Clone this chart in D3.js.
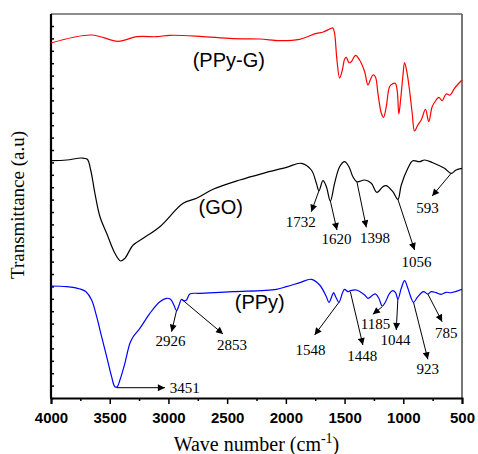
<!DOCTYPE html>
<html>
<head>
<meta charset="utf-8">
<script src="https://cdn.jsdelivr.net/npm/d3@7/dist/d3.min.js"></script>
<style>
  body { margin: 0; background: #fff; }
</style>
</head>
<body>
<svg width="478" height="454"></svg>
<script>
// spectra: [wave number, transmittance (a.u.)]
const ppyG = [
  [4000, 355], [3654, 363], [3428, 356.7], [3271, 361.3], [3101, 361.3], [2988, 362.7],
  [2733, 361.7], [2452, 359.3], [2222, 359], [2052, 357.3], [1882, 358.7], [1740, 364.7],
  [1687, 365.7], [1613, 369.7], [1599, 370], [1585, 364.7], [1565, 338], [1542, 320],
  [1519, 328], [1500, 338.7], [1485, 340.7], [1463, 335.3], [1443, 336.3], [1406, 342.7],
  [1372, 338], [1329, 326.3], [1301, 313], [1281, 318], [1259, 323], [1238, 321.3],
  [1216, 304.7], [1187, 284.7], [1168, 280.7], [1145, 291.3], [1117, 311.3], [1094, 314],
  [1068, 314.7], [1051, 306.3], [1038, 284], [1023, 298], [1004, 321.3], [989, 335.3],
  [970, 326.3], [947, 308], [924, 284.7], [904, 267], [876, 273], [847, 278], [811, 288.7],
  [783, 276.3], [754, 291.3], [720, 298], [697, 300.7], [669, 297.3], [635, 304], [601, 303],
  [564, 309.7], [500, 318]
];

const go = [
  [4000, 237.3], [3866, 238], [3739, 240], [3691, 238.7], [3662, 228], [3626, 204.7],
  [3583, 181.3], [3526, 164.7], [3456, 144.7], [3407, 137], [3371, 139.7], [3300, 153],
  [3215, 159.7], [3073, 171.3], [2875, 194.7], [2761, 199.7], [2620, 208.7], [2393, 218],
  [2194, 224.7], [1995, 230.7], [1868, 234.7], [1783, 228], [1740, 214.7], [1718, 207.3],
  [1684, 217.3], [1655, 211.3], [1621, 197], [1585, 214.7], [1542, 231.3], [1500, 236.3],
  [1463, 231.3], [1429, 221.3], [1395, 216.3], [1329, 218], [1272, 214.7], [1225, 205.7],
  [1174, 211.3], [1145, 212.3], [1089, 206.3], [1046, 198.7], [1017, 213], [961, 229.7],
  [919, 237.3], [862, 236.3], [819, 238], [749, 235.3], [649, 229.7], [592, 224.7],
  [550, 228], [500, 229.7]
];

const ppy = [
  [4000, 112], [3866, 111.3], [3753, 109], [3702, 106.3], [3654, 98], [3611, 81.3],
  [3569, 61.3], [3526, 41.3], [3484, 21.3], [3456, 11.3], [3436, 11.3], [3413, 18],
  [3371, 34.7], [3328, 54.7], [3300, 61.3], [3243, 69.7], [3158, 84.7], [3073, 96.3],
  [3016, 99.7], [2982, 98.7], [2954, 93], [2931, 87.3], [2909, 93], [2888, 98.7],
  [2869, 97.3], [2846, 98], [2818, 104], [2733, 104.7], [2450, 106.3], [2080, 108.7],
  [1995, 111.3], [1882, 115.3], [1783, 118.7], [1712, 113], [1655, 101.3], [1633, 95.7],
  [1604, 103], [1593, 105.3], [1576, 101.3], [1548, 95.7], [1519, 104.7], [1500, 108.7],
  [1471, 106.3], [1451, 107.3], [1400, 108], [1329, 103], [1301, 99.7], [1259, 103],
  [1236, 104], [1208, 99.7], [1179, 92], [1151, 96.3], [1117, 104.7], [1089, 107.3],
  [1066, 105.3], [1046, 99], [1017, 109.7], [989, 117.3], [961, 109.7], [932, 99.7],
  [913, 95.7], [876, 101.3], [828, 106.3], [791, 104], [762, 106.3], [720, 105.3],
  [677, 103.7], [635, 105.7], [592, 105.3], [500, 108.7]
];

// peak labels: text, arrow tail, arrow head, text centre
const goPeaks = [
  { label: '1732', from: [1718, 207.3], to: [1783, 186.3], at: [1874, 176.3] },
  { label: '1620', from: [1621, 197], to: [1565, 168], at: [1568, 159.7] },
  { label: '1398', from: [1395, 216.3], to: [1315, 170.7], at: [1240, 160.7] },
  { label: '1056', from: [1046, 198.7], to: [904, 148], at: [887, 136.3] },
  { label: '593', from: [592, 224.7], to: [754, 202], at: [794, 190.5] }
];

const ppyPeaks = [
  { label: '2926', from: [2931, 87.3], to: [2973, 66.3], at: [2982, 57] },
  { label: '2853', from: [2880, 98], to: [2535, 64], at: [2458, 53] },
  { label: '1548', from: [1548, 95.7], to: [1755, 63], at: [1791, 48.7] },
  { label: '1448', from: [1451, 106.3], to: [1344, 53], at: [1349, 42] },
  { label: '1185', from: [1179, 91.3], to: [1259, 83.7], at: [1236, 74.5] },
  { label: '1044', from: [1046, 99], to: [1060, 68], at: [1066, 58] },
  { label: '923', from: [913, 95.7], to: [791, 38.7], at: [791, 29.5] },
  { label: '785', from: [791, 104], to: [669, 76.3], at: [635, 65.3] },
  { label: '3451', from: [3441, 10.3], to: [3030, 10.3], at: [2988, 10.3], anchor: 'start' }
];

const curveLabels = [
  { label: '(PPy-G)', at: [2486, 338] },
  { label: '(GO)', at: [2554, 191.3] },
  { label: '(PPy)', at: [2222, 96.3] }
];

const xTicks = d3.range(500, 4001, 250);
const yTicks = d3.range(0, 380, 12.4);

const svg = d3.select('svg');
const plotLeft = 51, plotRight = 462, plotTop = 14, plotBottom = 398;

const x = d3.scaleLinear().domain([4000, 500]).range([plotLeft, plotRight]);
const y = d3.scaleLinear().domain([0, 384]).range([plotBottom, plotTop]);

svg.append('defs').append('marker')
    .attr('id', 'arrow')
    .attr('viewBox', '0 0 10 10')
    .attr('refX', 10)
    .attr('refY', 5)
    .attr('markerWidth', 9)
    .attr('markerHeight', 7)
    .attr('markerUnits', 'userSpaceOnUse')
    .attr('orient', 'auto')
  .append('path')
    .attr('d', 'M0,0 L10,5 L0,10 Z')
    .attr('fill', '#000');

// frame: top and right
svg.append('line')
    .attr('x1', plotLeft).attr('x2', plotRight).attr('y1', plotTop).attr('y2', plotTop)
    .attr('stroke', '#666').attr('stroke-width', 1.6);
svg.append('line')
    .attr('x1', plotRight).attr('x2', plotRight).attr('y1', plotTop).attr('y2', plotBottom)
    .attr('stroke', '#555').attr('stroke-width', 1.6);

// x axis
const xAxis = svg.append('g')
    .attr('transform', `translate(0, ${plotBottom})`)
    .call(d3.axisBottom(x)
        .tickValues(xTicks)
        .tickSize(6)
        .tickPadding(8)
        .tickFormat(d => d % 500 === 0 ? d : ''));
xAxis.select('.domain').attr('stroke-width', 2);
xAxis.selectAll('.tick line')
    .attr('stroke-width', 1.5)
    .attr('y2', d => d % 500 === 0 ? 6 : 3);
xAxis.selectAll('.tick text')
    .attr('font-family', 'Arial, "Liberation Sans", sans-serif')
    .attr('font-weight', 'bold')
    .attr('font-size', 15)
    .attr('fill', '#000');

// y axis, ticks only
const yAxis = svg.append('g')
    .attr('transform', `translate(${plotLeft}, 0)`)
    .call(d3.axisLeft(y)
        .tickValues(yTicks)
        .tickSize(-3)
        .tickFormat(''));
yAxis.select('.domain').attr('stroke-width', 2.2).attr('d', `M0,${plotTop}V${plotBottom}`);
yAxis.selectAll('.tick line').attr('x1', -1).attr('stroke-width', 1.5);

const line = d3.line()
    .x(d => x(d[0]))
    .y(d => y(d[1]))
    .curve(d3.curveCatmullRom.alpha(0.5));

svg.append('path').datum(ppyG)
    .attr('d', line).attr('fill', 'none').attr('stroke', '#ff0000').attr('stroke-width', 1.2);
svg.append('path').datum(go)
    .attr('d', line).attr('fill', 'none').attr('stroke', '#000').attr('stroke-width', 1.2);
svg.append('path').datum(ppy)
    .attr('d', line).attr('fill', 'none').attr('stroke', '#0000ff').attr('stroke-width', 1.2);

// peak arrows and numbers
const peaks = goPeaks.concat(ppyPeaks);
svg.selectAll('.peak-arrow')
    .data(peaks)
    .join('line')
    .attr('class', 'peak-arrow')
    .attr('x1', d => x(d.from[0]))
    .attr('y1', d => y(d.from[1]))
    .attr('x2', d => x(d.to[0]))
    .attr('y2', d => y(d.to[1]))
    .attr('stroke', '#000')
    .attr('stroke-width', 1)
    .attr('marker-end', 'url(#arrow)');

svg.selectAll('.peak-label')
    .data(peaks)
    .join('text')
    .attr('class', 'peak-label')
    .attr('x', d => x(d.at[0]))
    .attr('y', d => y(d.at[1]))
    .attr('dy', '0.35em')
    .attr('text-anchor', d => d.anchor || 'middle')
    .attr('font-family', '"Times New Roman", "Liberation Serif", serif')
    .attr('font-size', 15)
    .text(d => d.label);

svg.selectAll('.curve-label')
    .data(curveLabels)
    .join('text')
    .attr('class', 'curve-label')
    .attr('x', d => x(d.at[0]))
    .attr('y', d => y(d.at[1]))
    .attr('dy', '0.35em')
    .attr('text-anchor', 'middle')
    .attr('font-family', 'Arial, "Liberation Sans", sans-serif')
    .attr('font-size', 20)
    .text(d => d.label);

// axis titles
const xTitle = svg.append('text')
    .attr('x', (plotLeft + plotRight) / 2)
    .attr('y', 451)
    .attr('text-anchor', 'middle')
    .attr('font-family', '"Times New Roman", "Liberation Serif", serif')
    .attr('font-size', 20);
xTitle.append('tspan').text('Wave number (cm');
xTitle.append('tspan').attr('font-size', 14).attr('dy', -8).text('-1');
xTitle.append('tspan').attr('dy', 8).text(')');

svg.append('text')
    .attr('transform', 'translate(23.5, 205) rotate(-90)')
    .attr('text-anchor', 'middle')
    .attr('font-family', '"Times New Roman", "Liberation Serif", serif')
    .attr('font-size', 19)
    .text('Transmittance (a.u)');
</script>
</body>
</html>
